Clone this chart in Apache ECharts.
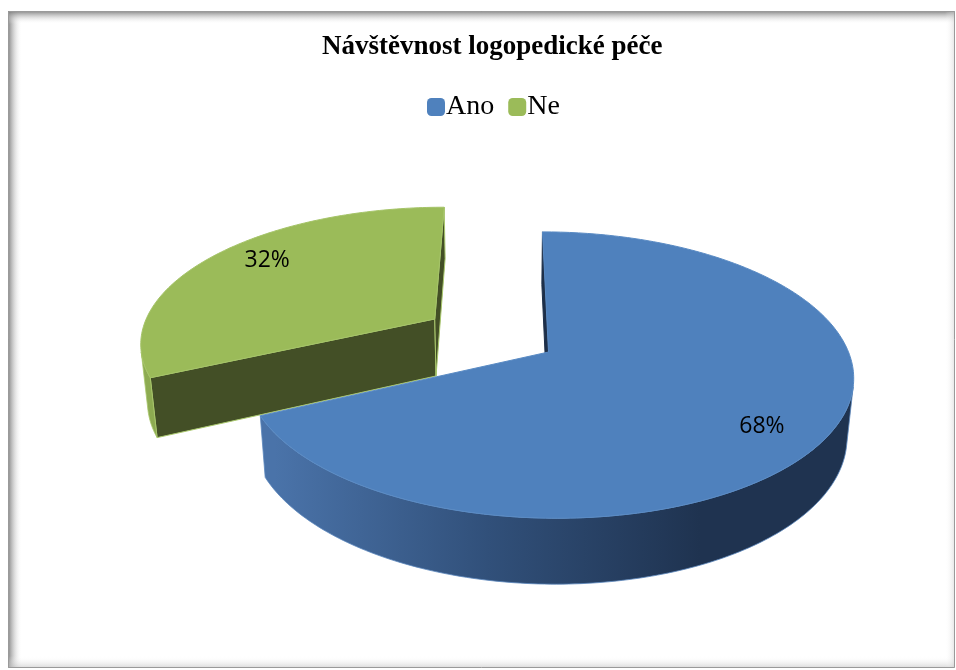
<!DOCTYPE html>
<html>
<head>
<meta charset="utf-8">
<script src="https://cdn.jsdelivr.net/npm/echarts@6/dist/echarts.min.js"></script>
<style>
html,body{margin:0;padding:0;background:#fff;}
#chart{width:956px;height:670px;}
</style>
</head>
<body>
<div id="chart"></div>
<script>
// ---- data ----
const title = 'Návštěvnost logopedické péče';
const categories = ['Ano', 'Ne'];
const values = [68, 32];

// ---- styles / 3D view settings ----
const topColors = ['#4f81bd', '#9bbb59'];
const cutColors = ['#1d2f49', '#434f26'];
const explodeBy = { 'Ne': 0.46 };
const DEG = Math.PI / 180;
const ALPHA = 27.7 * DEG, DIST = 5.5, SCALE = 300, THICK = 0.225;
const X0 = 505, Y0 = 352, OX = 0.145;
const LABEL_R = 0.81, LABEL_SHIFT = 5;

const total = values.reduce((a, b) => a + b, 0);

function project(x, y, z) {
  const yp = y * Math.cos(ALPHA) - z * Math.sin(ALPHA);
  const zp = y * Math.sin(ALPHA) + z * Math.cos(ALPHA);
  const w = DIST / (DIST - zp);
  return [X0 + SCALE * (x + OX) * w, Y0 - SCALE * yp * w];
}

function wallFill(i) {
  if (i === 0) {
    return new echarts.graphic.LinearGradient(275, 0, 700, 0, [
      { offset: 0, color: '#4a73a9' },
      { offset: 0.5, color: '#31507a' },
      { offset: 1, color: '#1f3350' }
    ], true);
  }
  return '#8dab51';
}

function renderSlice(i) {
  return function (params, api) {
    const value = api.value(0);
    let before = 0;
    for (let k = 0; k < i; k++) before += values[k];
    const t0 = before / total * 360;
    const t1 = t0 + value / total * 360;
    const tm = (t0 + t1) / 2 * DEG;
    const e = explodeBy[categories[i]] || 0;
    const ex = e * Math.sin(tm), ez = -e * Math.cos(tm);
    const P = (r, th, y) => project(ex + r * Math.sin(th), y, ez - r * Math.cos(th));
    const camX = -OX - ex, camZ = DIST * Math.cos(ALPHA) - ez;
    const children = [];

    // radial cut walls
    [[t0, t0 - 90], [t1, t1 + 90]].forEach(([ta, tn]) => {
      const th = ta * DEG, nth = tn * DEG;
      const nx = Math.sin(nth), nz = -Math.cos(nth);
      const px = 0.5 * Math.sin(th), pz = -0.5 * Math.cos(th);
      if (nx * (camX - px) + nz * (camZ - pz) > 0) {
        children.push({
          type: 'polygon',
          shape: { points: [P(0, th, 0), P(1, th, 0), P(1, th, -THICK), P(0, th, -THICK)] },
          style: { fill: cutColors[i], stroke: i === 1 ? '#a9c86c' : cutColors[i], lineWidth: 1 }
        });
      }
    });

    // outer curved wall (front-facing part)
    const steps = Math.max(2, Math.ceil(t1 - t0));
    let run = [];
    const runs = [];
    for (let s = 0; s <= steps; s++) {
      const th = (t0 + (t1 - t0) * s / steps) * DEG;
      const vis = Math.sin(th) * camX - Math.cos(th) * camZ - 1 > 0;
      if (vis) run.push(th);
      else if (run.length) { runs.push(run); run = []; }
    }
    if (run.length) runs.push(run);
    runs.forEach(r => {
      if (r.length < 2) return;
      const top = r.map(th => P(1, th, 0));
      const bot = r.slice().reverse().map(th => P(1, th, -THICK));
      children.push({
        type: 'polygon',
        shape: { points: top.concat(bot) },
        style: { fill: wallFill(i), stroke: i === 0 ? '#5b86bd' : '#a9c86c', lineWidth: 0.8 }
      });
    });

    // top face
    const pts = [P(0, 0, 0)];
    for (let s = 0; s <= steps; s++) {
      const th = (t0 + (t1 - t0) * s / steps) * DEG;
      pts.push(P(1, th, 0));
    }
    children.push({
      type: 'polygon',
      shape: { points: pts },
      style: { fill: topColors[i], stroke: i === 0 ? '#5a8bc4' : '#a5c468', lineWidth: 1 }
    });

    // data label
    const lt = tm + LABEL_SHIFT * DEG;
    const lp = P(LABEL_R, lt, 0);
    children.push({
      type: 'text',
      x: lp[0], y: lp[1],
      style: {
        text: Math.round(value / total * 100) + '%',
        fill: '#000',
        font: '23px "Open Sans"',
        align: 'center',
        verticalAlign: 'middle'
      }
    });
    return { type: 'group', children: children };
  };
}

const chart = echarts.init(document.getElementById('chart'), null, { renderer: 'canvas' });
chart.setOption({
  animation: false,
  backgroundColor: '#ffffff',
  title: {
    text: title,
    left: 317,
    top: 29,
    textStyle: { fontFamily: 'Liberation Serif', fontWeight: 'bold', fontSize: 27, color: '#000' }
  },
  legend: {
    data: categories,
    left: 422,
    top: 88,
    itemWidth: 18,
    itemHeight: 18,
    itemGap: 14,
    icon: 'roundRect',
    textStyle: { fontFamily: 'Liberation Serif', fontSize: 28, color: '#000', padding: [0, 0, 0, -4] }
  },
  graphic: [
    { type: 'rect', shape: { x: 8, y: 11, width: 14, height: 657 }, silent: true, z: 10,
      style: { fill: new echarts.graphic.LinearGradient(0, 0, 1, 0, [{ offset: 0, color: 'rgba(110,110,110,0.85)' }, { offset: 1, color: 'rgba(255,255,255,0)' }]) } },
    { type: 'rect', shape: { x: 8, y: 11, width: 947, height: 13 }, silent: true, z: 10,
      style: { fill: new echarts.graphic.LinearGradient(0, 0, 0, 1, [{ offset: 0, color: 'rgba(120,120,120,0.9)' }, { offset: 1, color: 'rgba(255,255,255,0)' }]) } },
    { type: 'rect', shape: { x: 8, y: 656, width: 947, height: 12 }, silent: true, z: 10,
      style: { fill: new echarts.graphic.LinearGradient(0, 0, 0, 1, [{ offset: 0, color: 'rgba(255,255,255,0)' }, { offset: 1, color: 'rgba(190,190,190,0.6)' }]) } },
    { type: 'rect', shape: { x: 945, y: 11, width: 10, height: 657 }, silent: true, z: 10,
      style: { fill: new echarts.graphic.LinearGradient(0, 0, 1, 0, [{ offset: 0, color: 'rgba(255,255,255,0)' }, { offset: 1, color: 'rgba(200,200,200,0.5)' }]) } },
    { type: 'rect', shape: { x: 8.5, y: 11.5, width: 946, height: 656 }, silent: true, z: 11,
      style: { fill: 'none', stroke: '#9a9a9a', lineWidth: 1 } }
  ],
  series: [
    { type: 'custom', name: categories[0], coordinateSystem: 'none', z: 3,
      itemStyle: { color: topColors[0] }, renderItem: renderSlice(0), data: [values[0]] },
    { type: 'custom', name: categories[1], coordinateSystem: 'none', z: 2,
      itemStyle: { color: topColors[1] }, renderItem: renderSlice(1), data: [values[1]] }
  ]
});
</script>
</body>
</html>
